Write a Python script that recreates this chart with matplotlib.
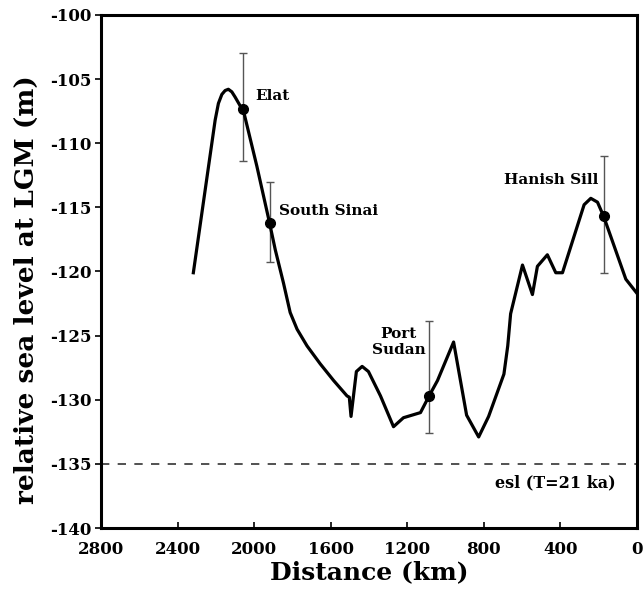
import matplotlib
matplotlib.use("Agg")
import matplotlib.pyplot as plt

# modelled relative sea level along the Red Sea axis
dist = [2318, 2204, 2187, 2169, 2152, 2135, 2117, 2100, 2073, 2059,
        1986, 1920, 1890, 1847, 1812, 1776, 1724, 1655, 1585, 1515,
        1503, 1494, 1466, 1436, 1403, 1340, 1272, 1220, 1131, 1086,
        1042, 958, 890, 827, 775, 695, 675, 660, 598, 546,
        520, 468, 424, 389, 276, 241, 206, 174, 136, 58, 0]
rsl = [-120.1, -108.2, -106.9, -106.2, -105.9, -105.8, -106.0, -106.4, -107.1, -107.3,
       -111.8, -116.2, -118.3, -120.9, -123.2, -124.5, -125.8, -127.2, -128.5, -129.7,
       -129.8, -131.3, -127.8, -127.4, -127.8, -129.7, -132.1, -131.4, -131.0, -129.7,
       -128.5, -125.5, -131.2, -132.9, -131.3, -128.0, -125.8, -123.3, -119.5, -121.8,
       -119.6, -118.7, -120.1, -120.1, -114.8, -114.3, -114.6, -115.7, -117.3, -120.6, -121.7]

# observed sites with uncertainty range
site_names = ["Elat", "South Sinai", "Port\nSudan", "Hanish Sill"]
site_dist = [2059, 1920, 1086, 174]
site_rsl = [-107.3, -116.2, -129.7, -115.7]
site_low = [-111.4, -119.3, -132.6, -120.1]
site_high = [-103.0, -113.0, -123.9, -111.0]

esl = -135.0

plt.rcParams['font.family'] = 'DejaVu Serif'
plt.rcParams['font.weight'] = 'bold'
plt.rcParams['axes.unicode_minus'] = False

fig = plt.figure(figsize=(6.44, 5.94), dpi=100)
ax = fig.add_axes([0.157, 0.111, 0.832, 0.864])

ax.plot(dist, rsl, color='black', lw=2.3, solid_joinstyle='round', zorder=3)

yerr = [[s - lo for s, lo in zip(site_rsl, site_low)],
        [hi - s for s, hi in zip(site_rsl, site_high)]]
ax.errorbar(site_dist, site_rsl, yerr=yerr, fmt='none', ecolor='#555555',
            elinewidth=1.0, capsize=3, capthick=1.0, zorder=2)
ax.plot(site_dist, site_rsl, 'o', color='black', ms=7, zorder=4)

ax.axhline(esl, color='#333333', lw=1.2, ls=(0, (5, 5)), zorder=1)

fs = 11
ax.text(1995, -106.3, site_names[0], ha='left', va='center', fontsize=fs, fontweight='bold')
ax.text(1869, -115.25, site_names[1], ha='left', va='center', fontsize=fs, fontweight='bold')
ax.text(1105, -125.5, site_names[2], ha='right', va='center', fontsize=fs,
        fontweight='bold', multialignment='center', linespacing=1.25)
ax.text(199, -112.85, site_names[3], ha='right', va='center', fontsize=fs, fontweight='bold')
ax.text(110, -136.5, 'esl (T=21 ka)', ha='right', va='center', fontsize=11.5, fontweight='bold')

ax.set_xlim(2800, 0)
ax.set_ylim(-140, -100)
ax.set_xticks(range(2800, -1, -400))
ax.set_yticks(range(-140, -99, 5))

for sp in ax.spines.values():
    sp.set_linewidth(2.2)

ax.tick_params(axis='x', direction='in', length=4, width=1.2, labelsize=12, pad=9)
ax.tick_params(axis='y', direction='out', length=4, width=1.2, labelsize=12, pad=3)
for lab in ax.get_xticklabels() + ax.get_yticklabels():
    lab.set_fontweight('bold')

ax.set_xlabel('Distance (km)', fontsize=18, fontweight='bold', labelpad=2)
ax.set_ylabel('relative sea level at LGM (m)', fontsize=19, fontweight='bold')
ax.yaxis.set_label_coords(-0.117, 0.464)

fig.savefig('out.png', dpi=100)
